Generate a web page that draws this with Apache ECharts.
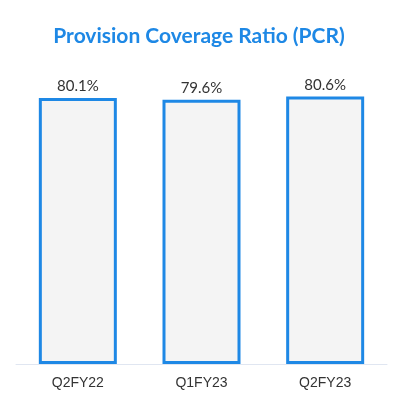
<!DOCTYPE html>
<html>
<head>
<meta charset="utf-8">
<script src="https://cdn.jsdelivr.net/npm/echarts@6/dist/echarts.min.js"></script>
<style>
    html, body { margin: 0; padding: 0; background: #fff; }
    #chart { width: 398px; height: 419px; }
</style>
</head>
<body>
<div id="chart"></div>
<script>
// 数据
var categories = ['Q2FY22', 'Q1FY23', 'Q2FY23'];
var pcrValues = [80.1, 79.6, 80.6];

var myChart = echarts.init(document.getElementById('chart'));

var option = {
    title: {
        text: 'Provision Coverage Ratio (PCR)',
        left: 'center',
        top: 21,
        textStyle: {
            fontFamily: 'Lato',
            fontSize: 21,
            fontWeight: 'bold',
            color: '#1e88e5'
        }
    },
    grid: {
        left: 16,
        right: 11,
        top: 32,
        bottom: 55
    },
    xAxis: {
        type: 'category',
        data: categories,
        axisLine: { lineStyle: { color: '#e0e6f1' } },
        axisTick: { alignWithLabel: true, length: 7, lineStyle: { color: '#e0e6f1' } },
        axisLabel: {
            fontFamily: 'Liberation Sans',
            fontSize: 14,
            color: '#333',
            margin: 12
        }
    },
    yAxis: {
        type: 'value',
        min: 0,
        max: 100,
        show: false
    },
    series: [{
        type: 'bar',
        data: pcrValues,
        barWidth: 78,
        itemStyle: {
            color: '#f4f4f4',
            borderColor: '#1e88e5',
            borderWidth: 3
        },
        label: {
            show: true,
            position: 'top',
            distance: 4,
            formatter: '{c}%',
            fontFamily: 'Lato',
            fontSize: 15,
            color: '#333'
        }
    }]
};

myChart.setOption(option);
</script>
</body>
</html>
